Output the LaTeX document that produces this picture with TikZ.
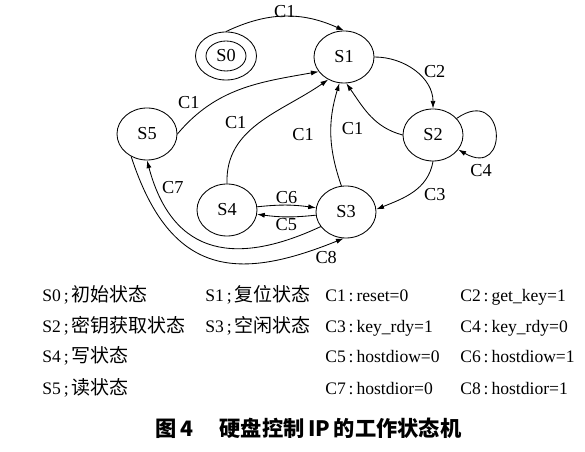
\documentclass[tikz,border=0pt]{standalone}
\usepackage{fontspec}
\setmainfont{Liberation Serif}
\newfontfamily\cjk[Scale=1.08]{Noto Sans CJK SC}
\usetikzlibrary{arrows.meta,shapes.geometric}

\begin{document}
\begin{tikzpicture}[
		x=0.025cm, y=0.025cm,
		line cap=round, line join=round,
		>={Latex[length=5.5pt,width=3.6pt]},
		% --- states, transitions, conditions ---
		state/.style={draw, ellipse, line width=0.6pt, inner sep=0pt,
			minimum width=1.5cm, minimum height=1.3cm,
			font=\fontsize{13}{15}\selectfont},
		trans/.style={->, line width=0.6pt},
		cond/.style={inner sep=1pt, font=\fontsize{13}{15}\selectfont},
		legend/.style={anchor=base west, inner sep=0pt,
			font=\fontsize{12.5}{15}\selectfont}
		]
		
		\useasboundingbox (0,0) rectangle (585,452);
		
		% ---------- Parameters ----------
		\def\rowA{150}
		\def\rowB{119}
		\def\rowC{89}
		\def\rowD{57}
		
		% ---------- States ----------
		\node[state, minimum width=1.525cm, minimum height=1.2cm] (S0) at (226,396) {};
		\node[state, minimum width=1.0cm, minimum height=0.75cm] (S0in) at (S0) {S0};
		\node[state] (S1) at (344,395) {S1};
		\node[state] (S2) at (433,317) {S2};
		\node[state] (S3) at (346,240) {S3};
		\node[state] (S4) at (227,242) {S4};
		\node[state] (S5) at (147,318) {S5};
		
		% ---------- Transitions into S1 (C1) ----------
		\draw[trans] (S0.north) to[bend left=25] node[cond, above=-2pt] {C1} (S1.north);
		\draw[trans] (S5.east) to[out=50, in=190] node[cond, pos=0.2, above left] {C1} (S1.-150);
		\draw[trans] (S4.north) to[out=92, in=-145] node[cond, midway, left=8pt] {C1} (S1.-125);
		\draw[trans] (S3.100) to[bend left=18] node[cond, midway, left=11pt] {C1} (S1.-100);
		\draw[trans] (S2.west) to[out=165, in=-55] node[cond, midway, below left=3.5pt] {C1} (S1.-85);
		
		% ---------- S1 -> S2 -> S3 ----------
		\draw[trans] (S1.east) to[out=0, in=90] node[cond, midway, right=5pt] {C2} (S2.north);
		\draw[trans] (S2.35) to[out=35, in=-30, min distance=1.5cm] node[cond, pos=0.82, below=5pt] {C4} (S2.-30);
		\draw[trans] (S2.south) to[out=-100, in=22] node[cond, pos=0.55, right=9pt] {C3} (S3.5);
		
		% ---------- Write / read states ----------
		\draw[trans] (S4) to[bend left=7] node[cond, above] {C6} (S3);
		\draw[trans] (S3) to[bend left=7] node[cond, below] {C5} (S4);
		\draw[trans] (S3.210) to[out=205, in=-75, out looseness=1.25, in looseness=1.4]
			node[cond, pos=0.9, right=3pt] {C7} (S5.-90);
		\draw[trans] (S5.-125) to[out=-72, in=202, out looseness=1.45, in looseness=1.25]
			node[cond, pos=0.9, below right] {C8} (S3.-95);
		
		% ---------- Legend ----------
		\node[legend] (legS0) at (42,\rowA) {S0\,;\,{\cjk 初始状态}};
		\node[legend] (legS1) at (205,\rowA) {S1\,;\,{\cjk 复位状态}};
		\node[legend] (legC1) at (325,\rowA) {C1\,:\,reset=0};
		\node[legend] (legC2) at (460,\rowA) {C2\,:\,get\_key=1};
		\node[legend] (legS2) at (42,\rowB) {S2\,;\,{\cjk 密钥获取状态}};
		\node[legend] (legS3) at (205,\rowB) {S3\,;\,{\cjk 空闲状态}};
		\node[legend] (legC3) at (325,\rowB) {C3\,:\,key\_rdy=1};
		\node[legend] (legC4) at (460,\rowB) {C4\,:\,key\_rdy=0};
		\node[legend] (legS4) at (42,\rowC) {S4\,;\,{\cjk 写状态}};
		\node[legend] (legC5) at (325,\rowC) {C5\,:\,hostdiow=0};
		\node[legend] (legC6) at (460,\rowC) {C6\,:\,hostdiow=1};
		\node[legend] (legS5) at (42,\rowD) {S5\,;\,{\cjk 读状态}};
		\node[legend] (legC7) at (325,\rowD) {C7\,:\,hostdior=0};
		\node[legend] (legC8) at (460,\rowD) {C8\,:\,hostdior=1};
		
		% ---------- Caption ----------
		\node[anchor=base west, inner sep=0pt, font=\fontsize{14}{16}\selectfont\cjk\bfseries]
			(caption) at (155,15) {图\,4\hspace{1.25em}硬盘控制\,IP\,的工作状态机};
		
	\end{tikzpicture}
\end{document}
